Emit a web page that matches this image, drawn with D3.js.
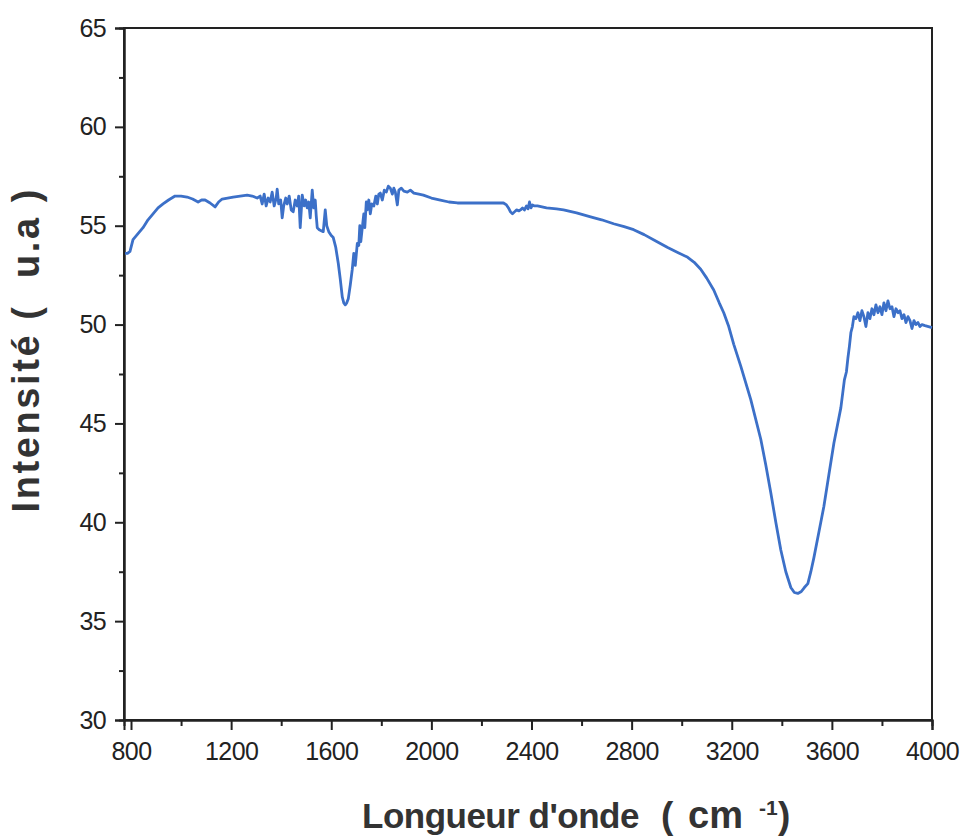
<!DOCTYPE html>
<html>
<head>
<meta charset="utf-8">
<script src="https://cdn.jsdelivr.net/npm/d3@7"></script>
<style>
body { margin: 0; background: #fff; }
text { font-family: "Liberation Sans", Arial, sans-serif; white-space: pre; }
</style>
</head>
<body>
<svg id="chart" width="962" height="838"></svg>
<script>
// wavenumber (cm-1) and intensity
var wavenumbers = [776, 786, 796, 808, 828, 848, 868, 888, 908, 928, 950, 976, 1000, 1024, 1046, 1068, 1082, 1096, 1116, 1136, 1150, 1164, 1186, 1208, 1236, 1264, 1284, 1304,
  1316, 1324, 1332, 1340, 1348, 1356, 1364, 1372, 1380, 1384, 1390, 1398, 1404, 1410, 1418, 1424, 1432, 1440, 1448, 1456, 1464, 1470, 1476, 1484, 1492, 1498, 1504, 1510, 1516, 1524, 1530, 1536, 1540, 1544,
  1552, 1560, 1568, 1576, 1582, 1590, 1600, 1608, 1618, 1628, 1636, 1644, 1650, 1656, 1662, 1668, 1676, 1684, 1690, 1696, 1704, 1710, 1714, 1718, 1724, 1730, 1734, 1740, 1744, 1750, 1756, 1762, 1770, 1778, 1784, 1790, 1796,
  1804, 1812, 1820, 1828, 1836, 1844, 1850, 1856, 1864, 1870, 1880, 1890, 1904, 1916, 1930, 1950, 1968, 2000, 2036, 2070, 2104, 2150, 2196, 2240, 2288,
  2300, 2308, 2316, 2324, 2332, 2340, 2350, 2356, 2364, 2372, 2380, 2386, 2392, 2398, 2404, 2412, 2424, 2460, 2500, 2528, 2580, 2636, 2680, 2728, 2770, 2808, 2850, 2900, 2944, 2984,
  3024, 3050, 3076, 3100, 3128, 3150, 3168, 3188, 3208, 3236, 3276, 3316, 3336, 3356, 3376, 3396, 3416, 3436, 3450, 3464, 3478, 3490, 3504, 3516, 3528, 3548, 3568, 3588, 3608, 3622, 3636, 3650, 3658, 3664, 3670, 3676, 3682,
  3688, 3696, 3704, 3712, 3720, 3728, 3736, 3744, 3752, 3760, 3768, 3776, 3784, 3792, 3800, 3808, 3816, 3824, 3832, 3840, 3848, 3856, 3864, 3872, 3880, 3888, 3896, 3904, 3912, 3920, 3928, 3936, 3944, 3952, 3960, 3972, 3986, 4000];
var intensity = [53.6, 53.6, 53.7, 54.3, 54.6, 54.9, 55.3, 55.6, 55.9, 56.1, 56.3, 56.5, 56.5, 56.45, 56.35, 56.2, 56.3, 56.3, 56.15, 55.95, 56.2, 56.35, 56.4, 56.45, 56.5, 56.55, 56.5, 56.4,
  56.5, 56.1, 56.6, 56.0, 56.4, 56.2, 56.7, 56.0, 56.4, 56.85, 56.1, 56.3, 55.4, 56.0, 56.4, 56.1, 56.5, 55.8, 55.7, 56.3, 56.0, 56.5, 54.9, 56.55, 56.0, 56.3, 55.9, 56.2, 55.4, 56.8, 55.9, 56.3, 55.5, 54.9,
  54.8, 54.75, 54.7, 55.8, 55.0, 54.7, 54.5, 54.4, 53.9, 53.1, 52.3, 51.4, 51.1, 51.0, 51.1, 51.3, 52.0, 52.8, 53.6, 53.0, 54.1, 54.0, 55.0, 54.2, 54.9, 55.6, 54.9, 56.2, 55.8, 56.3, 55.6, 56.1, 56.0, 56.5, 56.1, 56.6, 56.65,
  56.3, 56.8, 56.7, 57.0, 56.9, 56.6, 56.9, 56.7, 56.05, 56.8, 56.9, 56.75, 56.7, 56.8, 56.65, 56.6, 56.55, 56.4, 56.3, 56.2, 56.15, 56.15, 56.15, 56.15, 56.15,
  56.05, 55.9, 55.7, 55.6, 55.7, 55.8, 55.75, 55.8, 55.9, 55.8, 56.0, 55.85, 56.2, 55.9, 56.05, 56.0, 56.0, 55.9, 55.85, 55.8, 55.65, 55.45, 55.3, 55.1, 54.95, 54.8, 54.55, 54.2, 53.9, 53.65,
  53.4, 53.15, 52.8, 52.35, 51.75, 51.1, 50.6, 49.9, 49.0, 47.9, 46.2, 44.2, 42.9, 41.5, 40.0, 38.6, 37.5, 36.7, 36.45, 36.4, 36.5, 36.7, 36.9, 37.5, 38.2, 39.5, 40.8, 42.4, 44.0, 44.9, 45.8, 47.2, 47.6, 48.3, 48.9, 49.6, 49.9,
  50.4, 50.3, 50.6, 50.2, 50.7, 50.4, 49.9, 50.6, 50.3, 50.8, 50.5, 51.0, 50.6, 50.9, 50.5, 51.1, 50.7, 51.2, 50.8, 50.9, 50.4, 50.8, 50.6, 50.7, 50.3, 50.5, 50.1, 50.4, 50.2, 49.8, 50.2, 50.0, 50.1, 49.9, 50.0, 49.95, 49.9, 49.85];

var xTicks = [800, 1200, 1600, 2000, 2400, 2800, 3200, 3600, 4000];
var xMinor = [1000, 1400, 1800, 2200, 2600, 3000, 3400, 3800];
var yTicks = [30, 35, 40, 45, 50, 55, 60, 65];
var yMinor = [32.5, 37.5, 42.5, 47.5, 52.5, 57.5, 62.5];

var svg = d3.select("#chart");
var x = d3.scaleLinear().domain([772, 4000]).range([124, 932]);
var y = d3.scaleLinear().domain([30, 65]).range([720, 28]);

// frame
svg.append("rect").attr("x", x(772)).attr("y", y(65)).attr("width", x(4000) - x(772)).attr("height", y(30) - y(65))
  .attr("fill", "none").attr("stroke", "#222").attr("stroke-width", 2);

var gx = svg.append("g").attr("transform", "translate(0," + y(30) + ")");
gx.call(d3.axisBottom(x).tickValues(xTicks).tickSize(10).tickPadding(12).tickFormat(d3.format("d")));
gx.append("g").call(d3.axisBottom(x).tickValues(xMinor).tickSize(6).tickFormat(""));

var gy = svg.append("g").attr("transform", "translate(" + x(772) + ",0)");
gy.call(d3.axisLeft(y).tickValues(yTicks).tickSize(9).tickPadding(9).tickFormat(d3.format("d")));
gy.append("g").call(d3.axisLeft(y).tickValues(yMinor).tickSize(5).tickFormat(""));

svg.selectAll(".domain").attr("stroke", "#222").attr("stroke-width", 2);
svg.selectAll(".tick line").attr("stroke", "#222").attr("stroke-width", 2);
svg.selectAll(".tick text").style("font-size", "25px").style("letter-spacing", "-0.6px").attr("fill", "#222")
  .style("font-family", "'Liberation Sans', Arial, sans-serif");

var line = d3.line().x(function (d) { return x(d[0]); }).y(function (d) { return y(d[1]); });
svg.append("path").datum(d3.zip(wavenumbers, intensity)).attr("d", line)
  .attr("fill", "none").attr("stroke", "#3c70c8").attr("stroke-width", 2.8).attr("stroke-linejoin", "round");

// axis titles
function title(tx, ty, size, str) {
  return svg.append("text").attr("x", tx).attr("y", ty).style("font-size", size + "px")
    .attr("font-weight", "bold").attr("fill", "#333").text(str);
}
title(362, 828, 35, "Longueur d'onde").style("letter-spacing", "-0.5px");
title(661, 828, 37, "(");
title(688, 828, 38, "cm");
title(759, 815, 21, "-1");
title(778, 828, 37, ")");

svg.append("text").attr("transform", "translate(39,351) rotate(-90)").attr("text-anchor", "middle")
  .style("font-size", "38px").attr("font-weight", "bold").attr("fill", "#333")
  .attr("textLength", 323).attr("lengthAdjust", "spacing")
  .text("Intensité (  u.a )");
</script>
</body>
</html>
